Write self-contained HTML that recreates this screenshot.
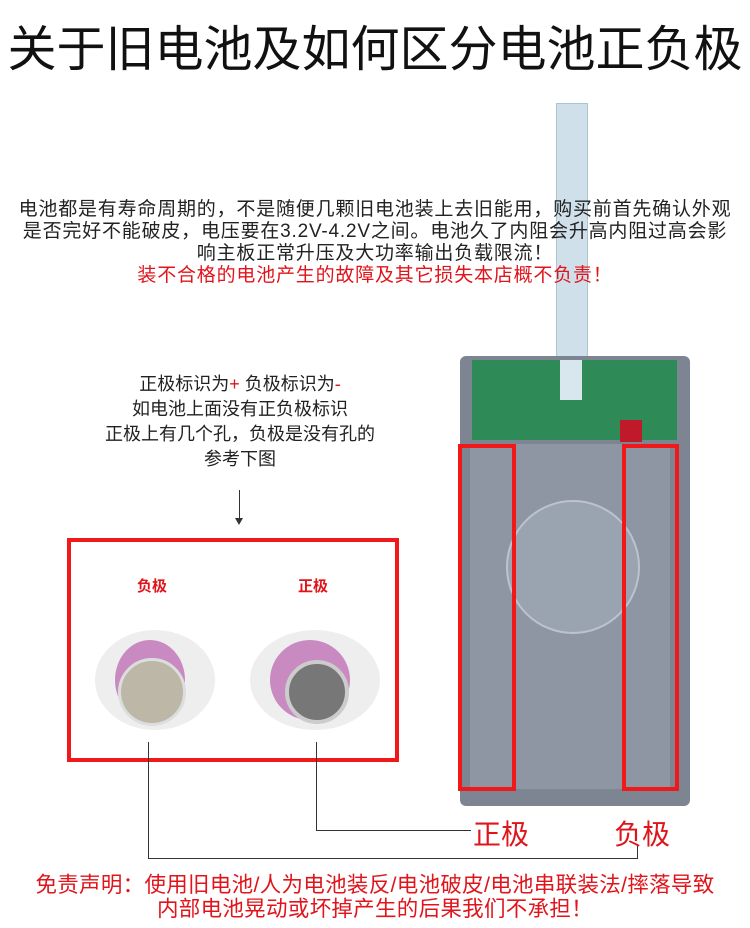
<!DOCTYPE html>
<html><head><meta charset="utf-8"><style>
body{margin:0;width:750px;height:928px;background:#fff;position:relative;overflow:hidden;font-family:"Liberation Sans","Noto Sans CJK SC",sans-serif;}
.a{position:absolute;}
.t{white-space:nowrap;}
</style></head><body>
<div class="a" style="left:556px;top:103px;width:30px;height:280px;background:#cfe0ea;border:1px solid #b0c4cf"></div>
<div class="a" style="left:460px;top:356px;width:230px;height:450px;background:#7d8592;border-radius:6px"></div>
<div class="a" style="left:472px;top:360px;width:205px;height:80px;background:#2e8b57"></div>
<div class="a" style="left:470px;top:444px;width:200px;height:345px;background:#8e96a3"></div>
<div class="a" style="left:506px;top:500px;width:130px;height:130px;border-radius:50%;background:#9aa3b0;border:2px solid #bcc3cc"></div>
<div class="a" style="left:560px;top:360px;width:22px;height:40px;background:#d8e6ee"></div>
<div class="a" style="left:620px;top:420px;width:22px;height:22px;background:#c01a2a"></div>

<div class="a t" style="left:0;top:10px;width:750px;text-align:center;font-size:49px;color:#111;">关于旧电池及如何区分电池正负极</div>

<div class="a t" style="left:0;top:199px;width:750px;text-align:center;font-size:19px;line-height:22px;color:#222;letter-spacing:0.8px">
电池都是有寿命周期的，不是随便几颗旧电池装上去旧能用，购买前首先确认外观<br>是否完好不能破皮，电压要在3.2V-4.2V之间。电池久了内阻会升高内阻过高会影<br>响主板正常升压及大功率输出负载限流！<br><span style="color:#e0141b">装不合格的电池产生的故障及其它损失本店概不负责！</span></div>

<div class="a" style="left:60px;top:372px;width:360px;text-align:center;font-size:18px;line-height:25px;color:#222;">
正极标识为<span style="color:#e0141b">+</span> 负极标识为<span style="color:#e0141b">-</span><br>如电池上面没有正负极标识<br>正极上有几个孔，负极是没有孔的<br>参考下图</div>
<div class="a" style="left:239px;top:490px;width:1px;height:30px;background:#333"></div>
<div class="a" style="left:235px;top:518px;width:0;height:0;border-left:4px solid transparent;border-right:4px solid transparent;border-top:7px solid #333"></div>

<div class="a" style="left:458px;top:444px;width:50px;height:339px;border:4px solid #f01818"></div>
<div class="a" style="left:622px;top:444px;width:49px;height:339px;border:4px solid #f01818"></div>

<div class="a" style="left:67px;top:538px;width:324px;height:216px;border:4px solid #f01818"></div>
<div class="a t" style="left:137px;top:575px;font-size:15px;font-weight:bold;color:#e0141b">负极</div>
<div class="a t" style="left:298px;top:575px;font-size:15px;font-weight:bold;color:#e0141b">正极</div>
<div class="a" style="left:95px;top:630px;width:120px;height:100px;border-radius:50%;background:#eee"></div>
<div class="a" style="left:115px;top:640px;width:70px;height:80px;border-radius:50%;background:#c88ac0"></div>
<div class="a" style="left:118px;top:658px;width:62px;height:62px;border-radius:50%;background:#bdb7a8;border:3px solid #ddd"></div>
<div class="a" style="left:250px;top:630px;width:130px;height:100px;border-radius:50%;background:#eee"></div>
<div class="a" style="left:270px;top:640px;width:80px;height:80px;border-radius:50%;background:#c88ac0"></div>
<div class="a" style="left:285px;top:660px;width:56px;height:56px;border-radius:50%;background:#777;border:4px solid #ccc"></div>

<div class="a" style="left:148px;top:742px;width:1px;height:116px;background:#333"></div>
<div class="a" style="left:148px;top:858px;width:490px;height:1px;background:#333"></div>
<div class="a" style="left:637px;top:846px;width:1px;height:12px;background:#333"></div>
<div class="a" style="left:316px;top:742px;width:1px;height:88px;background:#333"></div>
<div class="a" style="left:316px;top:830px;width:155px;height:1px;background:#333"></div>
<div class="a t" style="left:473px;top:813px;font-size:28px;color:#e0141b">正极</div>
<div class="a t" style="left:614px;top:813px;font-size:28px;color:#e0141b">负极</div>

<div class="a t" style="left:0;top:873px;width:750px;text-align:center;font-size:21.5px;line-height:24px;color:#e0141b;letter-spacing:0.3px">
免责声明：使用旧电池/人为电池装反/电池破皮/电池串联装法/摔落导致<br>内部电池晃动或坏掉产生的后果我们不承担！</div>
</body></html>
